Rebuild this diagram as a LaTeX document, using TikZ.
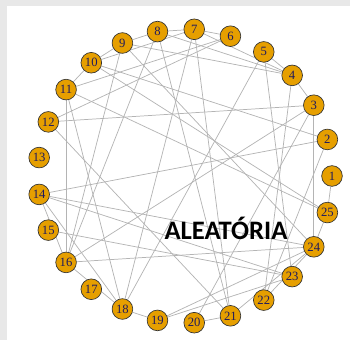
\documentclass[tikz,border=0pt]{standalone}
\usepackage{fontspec}
\setmainfont{Liberation Serif}
\newfontfamily\labelfont{Carlito}
\usetikzlibrary{backgrounds}
\definecolor{vfill}{HTML}{E69F00}
\definecolor{vtext}{HTML}{1F1A5E}
\definecolor{edgegray}{HTML}{B4B4B4}
\definecolor{bandgray}{HTML}{E8E8E8}
\begin{document}
\begin{tikzpicture}[x=0.75pt,y=0.75pt,line cap=round,line join=round,
  vtx/.style={circle,draw=black!80,line width=0.5pt,fill=vfill,text=vtext,minimum size=15.5pt,inner sep=0pt,font=\fontsize{9.5}{9.5}\selectfont},
  edge/.style={draw=edgegray,line width=0.55pt}]
  \useasboundingbox (0,0) rectangle (350,340);
  \fill[bandgray] (0,0) rectangle (7,340);
  \fill[bandgray] (0,334) rectangle (350,340);
  \begin{scope}[shift={(185,164)}]
    \foreach \i in {1,...,25}
      \node[vtx] (n\i) at ({(\i-1)*14.4}:147) {\i};
  \end{scope}
  \begin{scope}[on background layer]
    \foreach \a/\b in {3/4,4/5,4/8,4/7,7/8,8/9,6/7,6/11,6/12,7/10,9/10,10/11,10/2,10/25,11/25,
      11/16,11/18,12/3,12/21,14/2,14/23,14/24,14/16,14/18,15/23,16/9,16/8,16/24,16/3,16/18,
      18/19,18/7,18/5,19/24,19/23,20/21,21/8,21/7,21/24,22/24,22/4,22/2,23/5,24/3,24/25,25/1,
      3/20,9/24,9/4}
      \draw[edge] (n\a) -- (n\b);
  \end{scope}
  \node[font=\labelfont\bfseries\fontsize{20}{20}\selectfont] (title) at (226,112) {ALEATÓRIA};
\end{tikzpicture}
\end{document}
